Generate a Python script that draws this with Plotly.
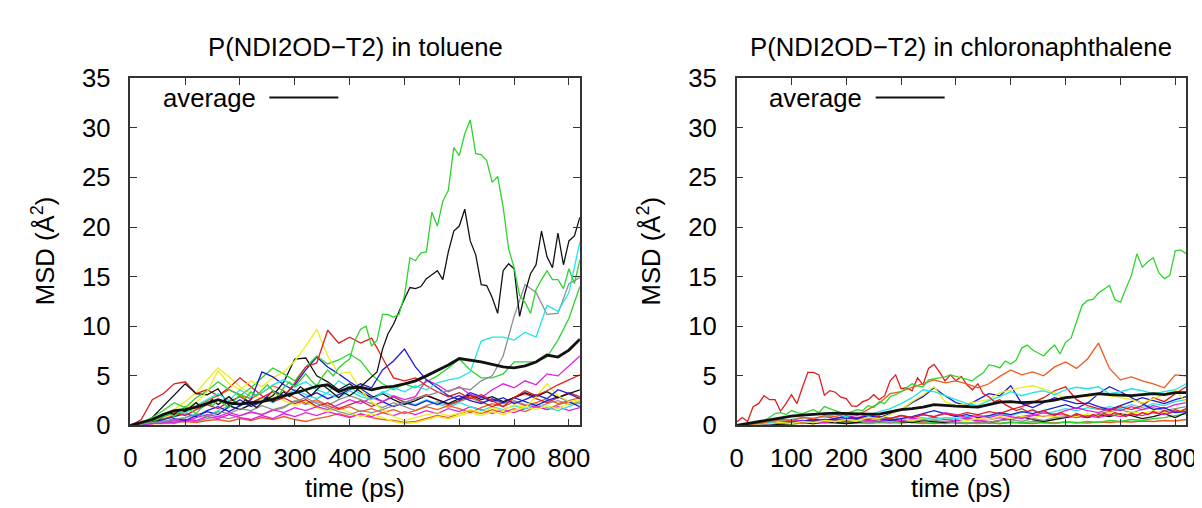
import plotly.graph_objects as go

# ---------------- time grids (ps) ----------------
T10 = list(range(0, 830, 10))
T20 = list(range(0, 840, 20))
X_TICKS = [0, 100, 200, 300, 400, 500, 600, 700, 800]
Y_TICKS = [0, 5, 10, 15, 20, 25, 30, 35]

# ---------------- toluene (left) ----------------
tol_green_big = [0, 0.1, 0.2, 0.3, 0.5, 0.6, 0.9, 1.2, 0.9, 1.4, 1.9, 1.5, 1.2, 1.8, 2.4, 2.0, 2.6, 2.2, 1.8, 2.5,
                 3.1, 2.7, 3.4, 3.0, 3.6, 4.1, 3.5, 3.0, 3.8, 4.4, 3.9, 4.6, 5.2, 4.5, 4.0, 4.9, 5.6, 5.0, 5.8, 6.3,
                 6.7, 8.6, 9.7, 10.0, 8.0, 8.6, 11.2, 11.2, 10.9, 11.2, 13.1, 16.9, 16.6, 17.4, 17.5, 21.5, 20.1, 22.6,
                 23.7, 28.0, 27.2, 29.4, 30.8, 27.4, 27.3, 26.7, 24.5, 25.1, 22.0, 17.8, 15.9, 13.1, 12.4, 11.3, 13.7,
                 14.7, 15.6, 14.7, 14.7, 13.8, 15.8, 14.3, 16.7]
tol_black_big = [0, 0.1, 0.2, 0.4, 0.6, 0.5, 0.9, 1.3, 1.1, 1.6, 1.4, 1.9, 2.3, 1.8, 2.2, 2.6, 2.1, 2.5, 2.9, 2.4,
                 2.0, 2.6, 2.2, 1.8, 2.3, 2.8, 2.4, 3.0, 3.4, 2.9, 3.3, 3.9, 3.5, 3.0, 3.6, 4.1, 3.7, 3.2, 2.8, 3.3,
                 3.0, 3.4, 3.9, 4.4, 4.8, 5.4, 7.7, 9.25, 10.2, 11.5, 12.75, 13.9, 13.8, 14.0, 14.8, 15.2, 15.6, 14.7,
                 17.5, 19.6, 20.1, 21.8, 18.6, 17.2, 14.2, 14.1, 12.9, 11.3, 15.6, 16.3, 15.8, 11.0, 13.4, 15.3, 16.2,
                 19.6, 17.0, 15.9, 19.4, 16.2, 18.6, 19.1, 21.0]
tol_cyan_big = [0, 0.3, 0.6, 0.9, 1.5, 1.2, 2.0, 2.6, 3.2, 2.5, 3.6, 2.9, 3.3, 4.1, 4.6, 3.9, 4.4, 3.6, 3.2, 2.8,
                3.5, 2.9, 2.6, 3.3, 3.8, 3.4, 4.0, 3.6, 4.3, 4.6, 4.8, 5.4, 8.5, 8.9, 8.9, 8.6, 9.4, 8.9, 12.1, 11.5,
                13.4, 18.5]
tol_gray_big = [0, 0.1, 0.3, 0.4, 0.6, 0.8, 1.1, 0.9, 1.4, 1.2, 1.7, 1.5, 2.0, 1.6, 1.9, 2.4, 2.8, 2.2, 1.8, 1.4,
                1.1, 1.5, 1.3, 1.6, 2.0, 2.3, 2.7, 3.0, 3.3, 3.5, 3.8, 3.6, 4.5, 5.0, 7.0, 11.0, 14.2, 13.4, 11.2, 11.3,
                14.3, 14.9]
tol_red1 = [0, 0.6, 2.6, 3.2, 4.2, 4.4, 3.2, 3.6, 3.0, 3.8, 4.8, 3.9, 3.0, 2.4, 2.8, 2.2, 2.6, 1.9, 2.3, 1.7,
            2.1, 2.5, 1.9, 2.4, 2.9, 2.3, 2.7, 3.1, 2.6, 2.1, 2.5, 3.0, 2.4, 1.9, 2.3, 2.8, 3.2, 2.7, 2.3, 2.8,
            3.3, 2.9]
tol_red2 = [0, 0.2, 0.5, 0.9, 1.3, 1.0, 1.6, 2.1, 1.7, 2.4, 2.9, 2.3, 2.8, 3.4, 2.9, 4.3, 5.9, 6.3, 9.6, 8.3,
            8.9, 8.3, 8.8, 6.8, 4.8, 4.5, 4.8, 4.0, 3.4, 2.9, 3.3, 2.7, 3.1, 2.5, 1.9, 2.8, 3.5, 3.0, 3.5, 4.1,
            4.6, 5.1]
tol_magenta1 = [0, 0.1, 0.2, 0.3, 0.5, 0.4, 0.8, 1.1, 0.9, 1.3, 1.0, 1.4, 1.1, 1.6, 1.3, 1.8, 1.5, 1.9, 1.6, 2.1,
                2.6, 2.2, 2.8, 2.4, 3.0, 2.6, 2.9, 4.6, 4.1, 3.4, 3.9, 3.1, 2.8, 3.6, 4.2, 3.8, 4.5, 4.1, 5.2, 5.0,
                6.0, 7.0]
tol_magenta2 = [0, 0.1, 0.2, 0.4, 0.3, 0.6, 0.5, 0.9, 0.7, 1.1, 0.8, 0.6, 1.0, 0.7, 1.2, 0.9, 1.3, 1.0, 1.4, 1.1,
                0.8, 1.2, 0.9, 1.3, 1.0, 1.4, 1.1, 1.5, 1.2, 1.7, 1.4, 1.9, 1.6, 1.2, 1.6, 1.3, 1.7, 2.0, 1.6, 1.9,
                1.5, 1.8]
tol_blue1 = [0, 0.2, 0.4, 0.3, 0.7, 0.5, 1.0, 1.4, 1.1, 1.9, 2.6, 1.9, 2.4, 3.5, 3.0, 4.1, 5.6, 6.9, 5.9, 5.2,
             4.4, 3.7, 3.0, 2.4, 1.9, 2.3, 2.0, 2.5, 2.1, 2.6, 3.0, 2.5, 2.2, 2.7, 2.3, 2.8, 2.4, 2.0, 2.5, 2.9,
             2.4, 1.9]
tol_blue2 = [0, 0.1, 0.3, 0.6, 0.9, 1.2, 0.9, 1.5, 1.9, 1.4, 2.0, 2.6, 5.4, 4.9, 4.1, 3.5, 2.8, 3.3, 2.7, 3.1,
             3.6, 4.2, 3.8, 5.6, 6.5, 7.7, 5.9, 4.6, 3.8, 3.0, 2.6, 3.3, 2.9, 2.4, 2.8, 2.2, 2.6, 3.1, 2.7, 3.6,
             3.2, 2.7]
tol_yellow1 = [0, 0.3, 0.5, 0.8, 1.2, 1.7, 2.3, 3.4, 5.5, 4.2, 3.6, 4.5, 3.9, 4.8, 5.4, 6.5, 8.0, 9.7, 7.0, 5.2,
               5.4, 3.6, 2.4, 1.6, 0.9, 0.5, 0.8, 1.1, 1.3, 1.0, 1.2, 1.6, 1.3, 1.8, 1.5, 2.1, 1.8, 2.9, 4.2, 3.0,
               2.4, 2.6]
tol_yellow2 = [0, 0.2, 0.6, 1.1, 1.6, 2.4, 3.3, 4.6, 5.8, 4.9, 3.9, 3.2, 2.6, 3.1, 2.5, 2.0, 2.4, 1.8, 1.4, 1.8,
               1.3, 0.9, 1.2, 0.8, 0.4, 0.2, 0.3, 0.6, 0.9, 0.7, 1.0, 1.3, 1.0, 1.4, 1.1, 1.5, 1.9, 1.6, 2.0, 1.7,
               2.2, 2.5]
tol_orange1 = [0, 0.2, 0.4, 0.7, 1.0, 1.4, 1.9, 2.5, 3.0, 3.6, 3.1, 2.7, 3.3, 4.0, 3.5, 2.8, 2.2, 2.6, 2.0, 1.6,
               1.9, 1.4, 1.7, 1.3, 1.6, 1.2, 1.5, 1.9, 1.6, 2.0, 1.7, 1.3, 1.8, 2.2, 1.9, 2.4, 2.0, 2.3, 2.7, 2.2,
               2.5, 2.8]
tol_orange2 = [0, 0.1, 0.2, 0.2, 0.3, 0.4, 0.3, 0.5, 0.6, 0.4, 0.7, 0.5, 0.8, 0.6, 0.9, 0.6, 0.4, 0.7, 0.9, 1.2,
               0.9, 1.1, 0.8, 0.6, 0.5, 0.3, 0.4, 0.7, 1.0, 0.8, 1.2, 1.5, 1.2, 1.6, 1.3, 1.7, 1.4, 1.9, 1.6, 2.1,
               2.4, 2.2]
tol_green2 = [0, 0.3, 0.8, 1.5, 2.3, 1.8, 2.8, 3.5, 4.4, 3.6, 3.0, 3.8, 4.8, 5.8, 5.2, 4.5, 5.9, 7.0, 6.2, 6.6,
              7.2, 6.5, 5.1, 4.2, 3.6, 4.2, 3.8, 4.4, 5.0, 5.8, 6.7, 5.6, 4.8, 4.8, 5.2, 6.4, 6.4, 6.4, 6.9, 8.6,
              10.8, 14.0]
tol_black2 = [0, 0.2, 0.8, 1.9, 3.1, 4.2, 3.2, 3.1, 3.7, 2.0, 1.6, 2.1, 2.4, 3.0, 4.4, 6.7, 6.8, 5.0, 4.4, 3.6,
              4.2, 3.4, 2.8, 3.2, 2.6, 2.1, 2.5, 3.0, 2.6, 2.2, 2.7, 3.1, 2.6, 2.9, 2.4, 2.8, 3.3, 2.9, 3.4, 2.8,
              3.2, 3.6]
tol_cyan2 = [0, 0.1, 0.3, 0.5, 0.4, 0.8, 1.2, 1.0, 1.5, 2.0, 1.6, 2.2, 2.8, 2.3, 3.0, 3.6, 3.1, 2.7, 3.3, 4.5,
             3.8, 3.2, 2.7, 3.4, 2.9, 2.4, 2.1, 2.6, 2.2, 1.8, 2.3, 1.9, 1.5, 1.9, 1.6, 2.0, 1.7, 2.2, 1.8, 1.5,
             1.9, 2.3]
tol_gray2 = [0, 0.1, 0.2, 0.3, 0.2, 0.5, 0.4, 0.7, 0.9, 0.7, 1.0, 1.3, 1.1, 1.5, 1.8, 2.5, 2.1, 2.4, 2.0, 2.6,
             3.0, 2.6, 2.2, 1.8, 2.3, 1.9, 1.5, 2.0, 2.4, 2.0, 2.4, 2.8, 2.3, 2.6, 2.2, 2.5, 2.1, 1.8, 2.2, 2.5,
             2.1, 2.4]
tol_average = [0, 0.3, 0.6, 1.1, 1.5, 1.6, 1.85, 2.2, 2.6, 2.25, 2.15, 2.3, 2.4, 2.65, 2.95, 3.3, 3.6, 3.95, 4.1,
               3.4, 3.8, 3.85, 3.6, 3.85, 3.95, 4.2, 4.5, 5.0, 5.55, 6.1, 6.75, 6.6, 6.4, 6.15, 5.9, 5.8, 6.0, 6.4,
               7.1, 6.9, 7.6, 8.7]

# ---------------- chloronaphthalene (right) ----------------
cn_green_big = [0, 0.05, 0.1, 0.2, 0.3, 0.5, 0.8, 1.2, 1.3, 1.1, 1.5, 1.3, 1.2, 1.4, 1.6, 1.3, 1.9, 1.7, 1.5, 1.3,
                1.2, 1.4, 1.6, 1.5, 2.0, 1.8, 2.4, 2.2, 2.9, 3.1, 3.4, 3.8, 4.2, 4.0, 3.9, 4.6, 4.7, 4.8, 4.9, 5.1,
                4.95, 4.8, 4.7, 4.5, 4.95, 5.3, 6.1, 6.0, 5.8, 6.5, 6.2, 6.6, 7.8, 8.1, 7.6, 7.3, 7.0, 7.6, 8.1, 7.2,
                8.4, 8.8, 10.5, 12.1, 12.6, 12.7, 13.35, 13.7, 14.1, 12.7, 12.4, 13.8, 15.1, 17.3, 15.95, 16.5, 16.9,
                15.4, 14.8, 15.1, 17.6, 17.7, 17.3]
cn_red1 = [0.35, 0.8, 0.4, 1.9, 2.2, 3.0, 2.6, 2.6, 1.45, 2.2, 3.1, 2.2, 3.85, 5.35, 5.35, 5.1, 3.05, 3.5, 3.35,
           2.85, 2.7, 1.95, 1.95, 2.4, 2.6, 3.1, 2.6, 3.0, 4.5, 5.1, 3.7, 3.8, 3.5, 4.8, 4.1, 5.75, 6.15, 5.4, 4.5,
           5.1, 4.5, 4.95, 4.1, 3.6, 4.2, 3.2, 2.9, 2.4, 2.6, 2.1, 1.8, 1.5, 1.7, 1.4, 1.6, 1.3, 1.5, 1.2, 1.0,
           1.3, 1.1, 0.9, 1.2, 1.0, 0.8, 1.1, 0.9, 1.2, 1.0, 1.3, 1.1, 0.9, 1.2, 1.0, 1.3, 1.1, 1.4, 1.2, 1.5,
           1.3, 1.6, 1.4, 1.7]
cn_orange1 = [0, 0.1, 0.2, 0.4, 0.6, 0.5, 0.8, 0.7, 1.0, 0.9, 1.2, 1.0, 1.6, 2.25, 3.2, 3.4, 3.85, 4.2, 4.6, 4.3,
              4.5, 4.2, 3.8, 4.2, 4.95, 5.6, 5.1, 5.4, 5.0, 5.9, 6.4, 5.75, 6.7, 8.3, 5.75, 4.6, 4.9, 4.5, 4.2, 3.8,
              5.1, 5.0]
cn_red2 = [0, 0.1, 0.2, 0.3, 0.2, 0.4, 0.3, 0.5, 0.4, 0.6, 0.5, 0.8, 0.6, 0.9, 0.7, 1.0, 0.8, 1.1, 0.9, 1.2,
           1.0, 1.3, 1.1, 1.4, 1.2, 1.6, 1.9, 2.3, 2.8, 3.5, 3.9, 2.6, 2.0, 1.7, 1.5, 1.9, 1.6, 2.0, 2.8, 2.4,
           3.2, 3.9]
cn_cyan1 = [0, 0.1, 0.2, 0.3, 0.5, 0.6, 0.8, 0.7, 0.9, 1.1, 0.9, 1.2, 1.0, 1.4, 1.7, 2.2, 2.8, 3.6, 3.4, 3.0,
            2.6, 2.2, 2.0, 2.5, 2.9, 3.4, 3.0, 3.3, 3.5, 3.1, 3.6, 3.85, 3.7, 3.9, 3.2, 3.4, 3.7, 3.5, 3.2, 3.4,
            3.6, 4.2]
cn_yellow1 = [0, 0.05, 0.1, 0.2, 0.3, 0.2, 0.4, 0.3, 0.5, 0.4, 0.6, 0.5, 0.8, 0.7, 1.1, 1.6, 2.4, 3.1, 3.9, 2.4,
              2.0, 2.2, 2.4, 2.6, 3.3, 3.6, 3.85, 4.0, 3.7, 3.3, 2.7, 3.0, 2.9, 3.1, 3.0, 2.8, 2.6, 2.25, 2.7, 3.2,
              3.6, 2.3]
cn_blue1 = [0, 0.05, 0.1, 0.2, 0.3, 0.2, 0.4, 0.6, 0.5, 0.7, 0.9, 0.7, 1.0, 0.8, 1.2, 1.6, 2.3, 2.9, 3.8, 3.0,
            2.3, 2.0, 2.6, 3.2, 3.0, 4.0, 2.2, 1.8, 2.3, 2.8, 2.5, 2.2, 2.25, 3.2, 3.9, 3.4, 2.8, 2.2, 1.6, 1.8,
            1.3, 1.4]
cn_magenta1 = [0, 0.05, 0.1, 0.2, 0.3, 0.5, 0.4, 0.7, 0.9, 0.7, 1.0, 0.8, 1.1, 0.9, 0.7, 1.0, 0.8, 1.1, 0.9, 1.3,
               1.1, 0.8, 1.0, 0.8, 1.1, 0.9, 0.7, 1.0, 1.3, 1.1, 1.5, 1.8, 1.5, 1.3, 1.7, 1.5, 1.9, 1.6, 2.0, 1.7,
               2.1, 2.3]
cn_magenta2 = [0, 0.05, 0.1, 0.15, 0.2, 0.3, 0.2, 0.4, 0.3, 0.5, 0.4, 0.6, 0.5, 0.4, 0.6, 0.5, 0.7, 0.6, 0.8, 0.6,
               0.5, 0.7, 0.5, 0.6, 0.8, 0.6, 0.9, 1.1, 0.9, 1.2, 1.0, 0.8, 1.0, 0.8, 1.1, 0.9, 1.2, 1.0, 1.3, 1.1,
               1.4, 1.6]
cn_gray1 = [0, 0.05, 0.1, 0.2, 0.3, 0.25, 0.4, 0.35, 0.5, 0.4, 0.6, 0.5, 0.3, 0.4, 0.3, 0.5, 0.4, 0.6, 0.5, 0.4,
            0.3, 0.2, 0.4, 0.3, 0.5, 0.6, 0.4, 0.7, 0.5, 0.8, 0.9, 1.1, 0.9, 1.2, 1.4, 1.6, 1.3, 1.6, 1.8, 1.5,
            1.7, 1.9]
cn_black1 = [0, 0.05, 0.1, 0.15, 0.1, 0.2, 0.3, 0.2, 0.4, 0.3, 0.2, 0.3, 0.5, 0.4, 0.6, 0.4, 0.3, 0.5, 0.4, 0.3,
             0.5, 0.7, 0.5, 0.3, 0.5, 0.7, 0.9, 0.6, 0.4, 0.6, 0.8, 1.0, 0.8, 1.1, 0.9, 1.2, 1.0, 0.7, 0.9, 1.2,
             0.8, 1.3]
cn_green2 = [0, 0.05, 0.1, 0.1, 0.2, 0.15, 0.3, 0.2, 0.3, 0.25, 0.4, 0.3, 0.2, 0.3, 0.25, 0.4, 0.3, 0.2, 0.3, 0.2,
             0.35, 0.25, 0.2, 0.3, 0.2, 0.35, 0.25, 0.4, 0.3, 0.2, 0.35, 0.25, 0.4, 0.3, 0.5, 0.4, 0.6, 0.5, 0.7,
             0.8, 1.0, 1.2]
cn_orange2 = [0, 0.05, 0.1, 0.15, 0.2, 0.15, 0.25, 0.2, 0.3, 0.25, 0.2, 0.3, 0.25, 0.35, 0.3, 0.25, 0.35, 0.3, 0.2,
              0.3, 0.25, 0.2, 0.3, 0.25, 0.2, 0.3, 0.25, 0.2, 0.3, 0.25, 0.35, 0.3, 0.25, 0.35, 0.3, 0.4, 0.35, 0.45,
              0.4, 0.5, 0.45, 0.6]
cn_blue2 = [0, 0.05, 0.1, 0.2, 0.3, 0.4, 0.5, 0.4, 0.6, 0.5, 0.7, 0.6, 0.8, 0.7, 0.5, 0.7, 0.9, 1.2, 1.5, 1.2,
            0.9, 1.1, 0.8, 1.0, 1.3, 1.1, 1.4, 1.2, 1.5, 1.8, 2.1, 1.7, 2.3, 1.9, 1.6, 2.0, 2.4, 2.8, 2.5, 2.2,
            2.6, 2.9]
cn_cyan2 = [0, 0.05, 0.1, 0.15, 0.2, 0.3, 0.25, 0.4, 0.5, 0.4, 0.6, 0.5, 0.7, 0.6, 0.8, 0.7, 0.9, 0.8, 0.6, 0.8,
            0.7, 0.9, 1.1, 0.9, 1.2, 1.0, 1.3, 1.5, 1.2, 1.4, 1.7, 1.5, 1.8, 1.6, 1.9, 1.7, 2.1, 1.8, 2.2, 2.0,
            2.4, 2.6]
cn_yellow2 = [0, 0.05, 0.1, 0.2, 0.3, 0.25, 0.4, 0.3, 0.5, 0.4, 0.6, 0.5, 0.7, 0.6, 0.8, 0.7, 0.5, 0.7, 0.6, 0.8,
              0.7, 0.5, 0.7, 0.6, 0.9, 0.7, 0.9, 0.8, 1.0, 0.9, 1.1, 0.9, 1.2, 1.0, 1.3, 1.1, 1.4, 1.2, 1.5, 1.3,
              1.6, 1.4]
cn_average = [0, 0.2, 0.4, 0.6, 0.8, 0.95, 1.05, 1.15, 1.2, 1.25, 1.2, 1.2, 1.15, 1.15, 1.35, 1.6, 1.7, 1.85, 2.1,
              2.0, 1.95, 1.9, 1.85, 2.1, 2.35, 2.4, 2.3, 2.35, 2.4, 2.55, 2.8, 2.9, 3.05, 3.2, 3.1, 3.05, 3.0, 3.1,
              3.2, 3.1, 3.3, 3.3]

TITLES = ["P(NDI2OD\u2212T2) in toluene", "P(NDI2OD\u2212T2) in chloronaphthalene"]

# ---------------- styling ----------------
RED, GREEN, BLUE = "#e01c1c", "#2ed42e", "#1c1cd8"
MAGENTA, CYAN, YELLOW = "#e41ee4", "#22e4e4", "#ecec1c"
ORANGE, GRAY, BLACK = "#ee5a1e", "#8e8e8e", "#111111"
FONT = "Liberation Sans"
FS = 25.7
W, H = 1202, 508
PX = [(117, 573), (732, 1188)]
PY = (59.5, 427)
TITLE_CY = 26

left_series = [
    (T20, tol_orange2, ORANGE), (T20, tol_gray2, GRAY), (T20, tol_magenta2, MAGENTA),
    (T20, tol_cyan2, CYAN), (T20, tol_yellow2, YELLOW), (T20, tol_orange1, ORANGE),
    (T20, tol_red1, RED), (T20, tol_blue1, BLUE), (T20, tol_black2, BLACK),
    (T20, tol_green2, GREEN), (T20, tol_magenta1, MAGENTA), (T20, tol_yellow1, YELLOW),
    (T20, tol_blue2, BLUE), (T20, tol_red2, RED), (T20, tol_gray_big, GRAY),
    (T20, tol_cyan_big, CYAN), (T10, tol_black_big, BLACK), (T10, tol_green_big, GREEN),
]
right_series = [
    (T20, cn_orange2, ORANGE), (T20, cn_green2, GREEN), (T20, cn_black1, BLACK),
    (T20, cn_gray1, GRAY), (T20, cn_magenta2, MAGENTA), (T20, cn_yellow2, YELLOW),
    (T20, cn_cyan2, CYAN), (T20, cn_blue2, BLUE), (T20, cn_magenta1, MAGENTA),
    (T20, cn_red2, RED), (T20, cn_blue1, BLUE), (T20, cn_yellow1, YELLOW),
    (T20, cn_cyan1, CYAN), (T10, cn_red1, RED), (T20, cn_orange1, ORANGE),
    (T10, cn_green_big, GREEN),
]

fig = go.Figure()
for panel, (series, avg) in enumerate([(left_series, tol_average), (right_series, cn_average)]):
    xa = "x" if panel == 0 else "x2"
    ya = "y" if panel == 0 else "y2"
    for t, v, c in series:
        fig.add_trace(go.Scatter(x=t, y=v, mode="lines", xaxis=xa, yaxis=ya,
                                 line=dict(color=c, width=1.3), hoverinfo="skip"))
    fig.add_trace(go.Scatter(x=T20, y=avg, mode="lines", xaxis=xa, yaxis=ya,
                             line=dict(color=BLACK, width=2.8), name="average"))


def xaxis_cfg(i):
    x0, x1 = PX[i]
    return dict(domain=[x0 / W, x1 / W], range=[0, 820], tickvals=X_TICKS,
                ticks="inside", ticklen=7, tickwidth=1.4, tickcolor="#333",
                showline=True, linecolor="#333", linewidth=1.5, mirror="allticks",
                showgrid=False, zeroline=False, ticklabelstandoff=9,
                tickfont=dict(size=FS, family=FONT, color="black"),
                anchor="y" if i == 0 else "y2")


def yaxis_cfg(i):
    return dict(domain=[(H - PY[1]) / H, (H - PY[0]) / H], range=[0, 35], tickvals=Y_TICKS,
                ticks="inside", ticklen=7, tickwidth=1.4, tickcolor="#333",
                showline=True, linecolor="#333", linewidth=1.5, mirror="allticks",
                showgrid=False, zeroline=False, ticklabelstandoff=13,
                tickfont=dict(size=FS, family=FONT, color="black"),
                anchor="x" if i == 0 else "x2")


annotations = []
shapes = []
for i in range(2):
    x0, x1 = PX[i]
    cx = (x0 + x1) / 2
    annotations.append(dict(text=TITLES[i], x=cx / W, y=1 - TITLE_CY / H, xref="paper", yref="paper",
                            showarrow=False, xanchor="center", yanchor="middle",
                            font=dict(size=FS, family=FONT, color="black")))
    annotations.append(dict(text="time (ps)", x=cx / W, y=1 - 493 / H, xref="paper", yref="paper",
                            showarrow=False, xanchor="center", yanchor="middle",
                            font=dict(size=FS, family=FONT, color="black")))
    annotations.append(dict(text="MSD (Å<sup>2</sup>)", x=(x0 - 89) / W, y=1 - 243 / H,
                            xref="paper", yref="paper", showarrow=False, textangle=-90,
                            xanchor="center", yanchor="middle",
                            font=dict(size=FS, family=FONT, color="black")))
    annotations.append(dict(text="average", x=(x0 + 31) / W, y=1 - 80 / H, xref="paper", yref="paper",
                            showarrow=False, xanchor="left", yanchor="middle",
                            font=dict(size=FS, family=FONT, color="black")))
    shapes.append(dict(type="line", xref="paper", yref="paper",
                       x0=(x0 + 141) / W, x1=(x0 + 211) / W, y0=1 - 80 / H, y1=1 - 80 / H,
                       line=dict(color=BLACK, width=2)))

fig.update_layout(
    width=W, height=H, margin=dict(l=0, r=0, t=0, b=0),
    paper_bgcolor="white", plot_bgcolor="white", showlegend=False,
    font=dict(family=FONT, size=FS, color="black"),
    xaxis=xaxis_cfg(0), yaxis=yaxis_cfg(0),
    xaxis2=xaxis_cfg(1), yaxis2=yaxis_cfg(1),
    annotations=annotations, shapes=shapes,
)

fig.write_html("out.html")
